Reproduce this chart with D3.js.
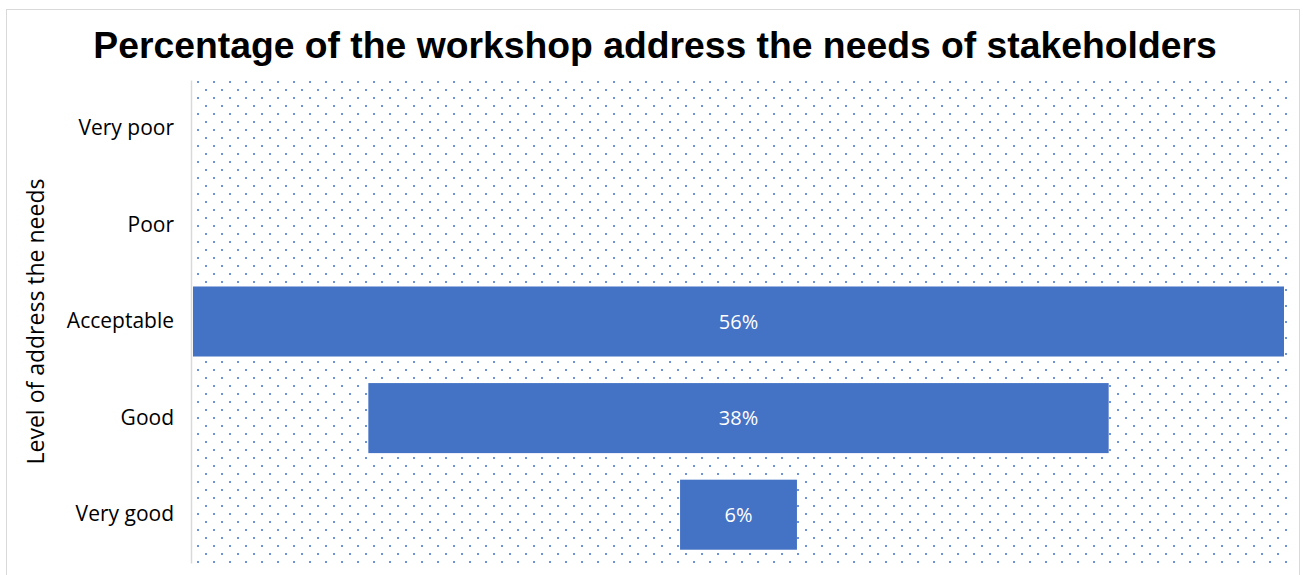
<!DOCTYPE html>
<html>
<head>
<meta charset="utf-8">
<script src="https://cdn.jsdelivr.net/npm/d3@7"></script>
<style>
  html, body { margin: 0; padding: 0; background: #fff; }
  svg { display: block; }
</style>
</head>
<body>
<script>
// Share of responses per level
const categories = ["Very poor", "Poor", "Acceptable", "Good", "Very good"];
const values = [0, 0, 56, 38, 6];
const valueLabels = ["", "", "56%", "38%", "6%"];
const chartTitle = "Percentage of the workshop address the needs of stakeholders";
const yAxisTitle = "Level of address the needs";

const W = 1303, H = 575;
const plot = { left: 191, right: 1286, top: 80, bottom: 563 };

const svg = d3.select("body").append("svg")
  .attr("width", W).attr("height", H);

// Dotted plot-area fill (staggered grid of small blue dots)
const defs = svg.append("defs");
const pat = defs.append("pattern")
  .attr("id", "dots")
  .attr("patternUnits", "userSpaceOnUse")
  .attr("x", plot.left + 1).attr("y", plot.top - 2)
  .attr("width", 16).attr("height", 16);
pat.append("rect").attr("x", 5).attr("y", 3).attr("width", 2).attr("height", 2).attr("fill", "#4a78cc");
pat.append("rect").attr("x", 13).attr("y", 11).attr("width", 2).attr("height", 2).attr("fill", "#4a78cc");

// Outer chart frame
svg.append("rect")
  .attr("x", 6.5).attr("y", 9.5)
  .attr("width", 1293).attr("height", 580)
  .attr("fill", "#fff").attr("stroke", "#d9d9d9").attr("stroke-width", 1);

svg.append("rect")
  .attr("x", plot.left).attr("y", plot.top - 3)
  .attr("width", plot.right - plot.left + 4).attr("height", plot.bottom - plot.top + 6)
  .attr("fill", "url(#dots)")
  .attr("opacity", 0.8);

// Scales: bars are centred on the middle of the plot (funnel layout)
const y = d3.scaleBand()
  .domain(categories)
  .range([plot.top, plot.bottom])
  .paddingInner(0.275).paddingOuter(0.1375);

const maxV = d3.max(values);
const x = d3.scaleLinear()
  .domain([-maxV / 2, maxV / 2])
  .range([plot.left + 2, plot.right - 2]);

const rows = categories.map((c, i) => ({ c, v: values[i], label: valueLabels[i] })).filter(d => d.v > 0);

// Bars
svg.append("g").selectAll("rect")
  .data(rows)
  .join("rect")
  .attr("x", d => x(-d.v / 2))
  .attr("y", d => y(d.c))
  .attr("width", d => x(d.v / 2) - x(-d.v / 2))
  .attr("height", y.bandwidth())
  .attr("fill", "#4472c4");

// Value labels
svg.append("g").selectAll("text")
  .data(rows)
  .join("text")
  .attr("x", x(0))
  .attr("y", d => y(d.c) + y.bandwidth() / 2)
  .attr("dy", "0.36em")
  .attr("text-anchor", "middle")
  .attr("fill", "#fff")
  .attr("font-family", "'Open Sans', 'Noto Sans', sans-serif")
  .attr("font-size", 20)
  .text(d => d.label);

// Y axis
const yAxis = d3.axisLeft(y).tickSize(0).tickPadding(17);
const gy = svg.append("g")
  .attr("transform", `translate(${plot.left},0)`)
  .call(yAxis);
gy.select(".domain").attr("stroke", "#d9d9d9").attr("stroke-width", 1.5);
gy.selectAll("text")
  .attr("font-family", "'Open Sans', 'Noto Sans', sans-serif")
  .attr("font-size", 21)
  .attr("fill", "#000");

// Axis title
svg.append("text")
  .attr("transform", `translate(44,${(plot.top + plot.bottom) / 2}) rotate(-90)`)
  .attr("text-anchor", "middle")
  .attr("font-family", "'Open Sans', 'Noto Sans', sans-serif")
  .attr("font-size", 23)
  .attr("fill", "#000")
  .text(yAxisTitle);

// Chart title
svg.append("text")
  .attr("x", 655).attr("y", 58)
  .attr("text-anchor", "middle")
  .attr("font-family", "'Liberation Sans', Arial, sans-serif")
  .attr("font-weight", "bold")
  .attr("font-size", 37.3)
  .attr("fill", "#000")
  .text(chartTitle);
</script>
</body>
</html>
